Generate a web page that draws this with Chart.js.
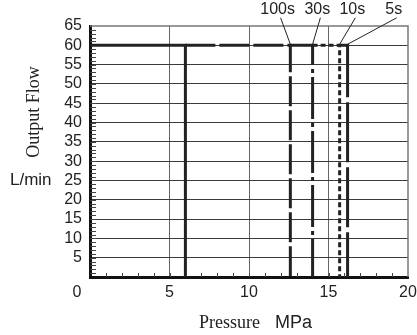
<!DOCTYPE html>
<html>
<head>
<meta charset="utf-8">
<script src="https://cdn.jsdelivr.net/npm/chart.js@4.4.0/dist/chart.umd.min.js"></script>
<style>
  html, body { margin: 0; padding: 0; background: #fff; }
  canvas { display: block; }
</style>
</head>
<body>
<canvas id="flow-chart" width="417" height="335"></canvas>
<script>
// pressure (MPa) at which the flow drops off, per curve
const curveNames = ['', '100s', '30s', '10s', '5s'];
const cutoffPressure = [6.0, 12.6, 14.0, 15.7, 16.2];
const ratedFlow = [60, 60, 60, 60, 60];
const curveDash = [[], [30, 4], [42, 4, 4, 4], [5, 3], [60, 5]];

const xTickValues = [0, 5, 10, 15, 20];
const yTickValues = [0, 5, 10, 15, 20, 25, 30, 35, 40, 45, 50, 55, 60, 65];

// where the time labels sit (in data units, above the plot)
const labelX = [null, 11.8, 14.3, 16.5, 19.1];
const labelY = 69.2;

const INK = '#222';
const SANS = '"Liberation Sans", Arial, sans-serif';
const SERIF = '"Liberation Serif", "Times New Roman", serif';

const datasets = cutoffPressure.map((p, i) => {
  const start = i === 0 ? 0 : cutoffPressure[i - 1];
  return {
    label: curveNames[i],
    data: [
      { x: start, y: ratedFlow[i] },
      { x: p, y: ratedFlow[i] },
      { x: p, y: 0 }
    ],
    borderColor: INK,
    borderWidth: 3,
    borderDash: curveDash[i],
    borderCapStyle: 'butt',
    borderJoinStyle: 'miter',
    pointRadius: 0,
    tension: 0,
    fill: false
  };
});

const decor = {
  id: 'decor',
  beforeDatasetsDraw(chart) {
    const { ctx, chartArea: a, scales: { x, y } } = chart;
    ctx.save();
    // grey top and right frame
    ctx.strokeStyle = '#777';
    ctx.lineWidth = 1.5;
    ctx.beginPath();
    ctx.moveTo(a.left, a.top);
    ctx.lineTo(a.right, a.top);
    ctx.lineTo(a.right, a.bottom);
    ctx.stroke();
    // minor ticks
    ctx.strokeStyle = '#444';
    ctx.lineWidth = 1;
    ctx.beginPath();
    for (let v = 1; v < 65; v++) {
      const py = Math.round(y.getPixelForValue(v)) + 0.5;
      ctx.moveTo(a.left, py);
      ctx.lineTo(a.left + 6, py);
    }
    for (let v = 1; v < 20; v++) {
      const px = Math.round(x.getPixelForValue(v)) + 0.5;
      ctx.moveTo(px, a.bottom);
      ctx.lineTo(px, a.bottom - 4);
    }
    ctx.stroke();
    ctx.restore();
  },
  afterDraw(chart) {
    const { ctx, chartArea: a, scales: { x, y } } = chart;
    ctx.save();
    ctx.fillStyle = INK;
    ctx.strokeStyle = INK;

    // time labels with leader lines to the corners
    ctx.font = '16px ' + SANS;
    ctx.textAlign = 'center';
    ctx.textBaseline = 'middle';
    ctx.lineWidth = 1;
    for (let i = 1; i < curveNames.length; i++) {
      const lx = x.getPixelForValue(labelX[i]);
      const ly = y.getPixelForValue(labelY);
      ctx.fillText(curveNames[i], lx, ly);
      ctx.beginPath();
      ctx.moveTo(lx + 3, ly + 8);
      ctx.lineTo(x.getPixelForValue(cutoffPressure[i]), y.getPixelForValue(ratedFlow[i]) - 1);
      ctx.stroke();
    }

    // shared origin label
    ctx.fillText('0', a.left - 13, a.bottom + 16);

    // y title
    ctx.save();
    ctx.translate(39, 112);
    ctx.rotate(-Math.PI / 2);
    ctx.font = '18px ' + SERIF;
    ctx.textAlign = 'center';
    ctx.textBaseline = 'alphabetic';
    ctx.fillText('Output Flow', 0, 0);
    ctx.restore();

    ctx.font = '17px ' + SANS;
    ctx.textAlign = 'left';
    ctx.textBaseline = 'middle';
    ctx.fillText('L/min', 10, y.getPixelForValue(25));

    // x title
    ctx.textBaseline = 'alphabetic';
    ctx.font = '18px ' + SERIF;
    ctx.fillText('Pressure', 199, 328);
    ctx.font = '18px ' + SANS;
    ctx.fillText('MPa', 275, 328);
    ctx.restore();
  }
};

new Chart(document.getElementById('flow-chart'), {
  type: 'line',
  data: { datasets },
  options: {
    responsive: false,
    animation: false,
    layout: { padding: { left: 0, top: 26, right: 9, bottom: 0 } },
    plugins: {
      legend: { display: false },
      tooltip: { enabled: false }
    },
    scales: {
      x: {
        type: 'linear',
        min: 0,
        max: 20,
        afterFit: s => { s.height = 58; s.paddingLeft = 0; s.paddingRight = 0; },
        afterBuildTicks: s => { s.ticks = xTickValues.map(v => ({ value: v })); },
        ticks: {
          autoSkip: false,
          callback: v => (v === 0 ? '' : v),
          font: { family: SANS, size: 16 },
          color: INK,
          padding: 6,
          maxRotation: 0
        },
        grid: {
          drawTicks: false,
          color: c => (c.tick && (c.tick.value === 0 || c.tick.value === 20) ? 'rgba(0,0,0,0)' : '#666'),
          lineWidth: 1
        },
        border: { color: '#111', width: 3 }
      },
      y: {
        min: 0,
        max: 65,
        afterFit: s => { s.width = 90; s.paddingTop = 0; s.paddingBottom = 0; },
        afterBuildTicks: s => { s.ticks = yTickValues.map(v => ({ value: v })); },
        ticks: {
          autoSkip: false,
          callback: v => (v === 0 ? '' : v),
          font: { family: SANS, size: 16 },
          color: INK,
          padding: 8
        },
        grid: {
          drawTicks: false,
          color: c => (c.tick && (c.tick.value === 0 || c.tick.value === 65) ? 'rgba(0,0,0,0)' : '#3a3a3a'),
          lineWidth: 1
        },
        border: { color: '#111', width: 3 }
      }
    }
  },
  plugins: [decor]
});
</script>
</body>
</html>
